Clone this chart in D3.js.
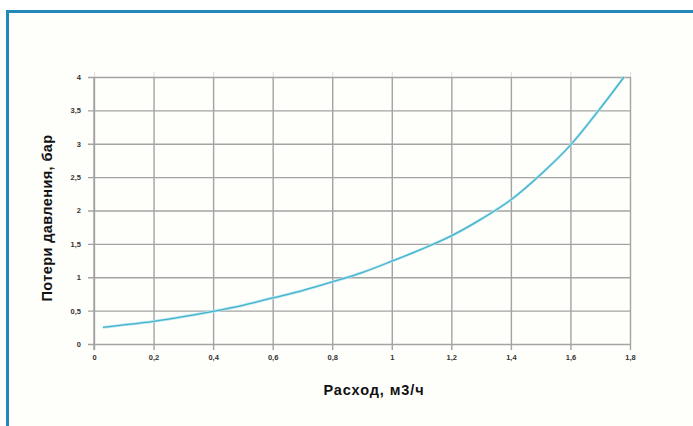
<!DOCTYPE html>
<html>
<head>
<meta charset="utf-8">
<script src="https://cdn.jsdelivr.net/npm/d3@7"></script>
<style>
  body { margin: 0; background: #fff; }
  svg { display: block; font-family: "Liberation Sans", Arial, sans-serif; }
</style>
</head>
<body>
<svg id="chart" width="693" height="426"></svg>
<script>
// Flow (m3/h) vs pressure loss (bar)
const flow = [0.03, 0.1, 0.2, 0.3, 0.4, 0.5, 0.6, 0.7, 0.8, 0.9, 1.0, 1.1, 1.2, 1.3, 1.4, 1.5, 1.6, 1.7, 1.78];
const loss = [0.25, 0.285, 0.34, 0.41, 0.49, 0.58, 0.69, 0.8, 0.93, 1.07, 1.24, 1.42, 1.62, 1.87, 2.16, 2.54, 2.98, 3.53, 4.0];

const xTicks = [0, 0.2, 0.4, 0.6, 0.8, 1, 1.2, 1.4, 1.6, 1.8];
const yTicks = [0, 0.5, 1, 1.5, 2, 2.5, 3, 3.5, 4];

const svg = d3.select("#chart");

// blue frame, runs off the right and bottom edges
svg.append("rect")
  .attr("x", 7.5).attr("y", 11.5)
  .attr("width", 720).attr("height", 440)
  .attr("fill", "#fefefb")
  .attr("stroke", "#2588bb")
  .attr("stroke-width", 3);

const x = d3.scaleLinear().domain([0, 1.8]).range([94, 630]);
const y = d3.scaleLinear().domain([0, 4]).range([344, 77]);

const comma = d => String(d).replace(".", ",");
const gridColor = "#a3a3a3";

// faint tick stubs above the top line
svg.append("g")
  .attr("transform", `translate(0,${y(4)})`)
  .call(d3.axisTop(x).tickValues(xTicks).tickSize(5).tickFormat(""))
  .call(g => g.select(".domain").remove())
  .call(g => g.selectAll("line").attr("stroke", gridColor).attr("stroke-opacity", 0.35));

// vertical grid + x labels
svg.append("g")
  .attr("transform", `translate(0,350)`)
  .call(d3.axisBottom(x).tickValues(xTicks).tickSize(-(350 - y(4))).tickPadding(5).tickFormat(comma))
  .call(g => g.select(".domain").remove())
  .call(g => g.selectAll("line").attr("stroke", gridColor).attr("stroke-width", 1.4))
  .call(g => g.selectAll("text")
    .attr("font-size", 7.5).attr("font-weight", "bold").attr("fill", "#333")
    .attr("font-family", "Liberation Sans, Arial, sans-serif"));

// horizontal grid + y labels
svg.append("g")
  .attr("transform", `translate(88,0)`)
  .call(d3.axisLeft(y).tickValues(yTicks).tickSize(-(x(1.8) - 88)).tickPadding(7).tickFormat(comma))
  .call(g => g.select(".domain").remove())
  .call(g => g.selectAll("line").attr("stroke", gridColor).attr("stroke-width", 1.4))
  .call(g => g.selectAll("text")
    .attr("font-size", 7.5).attr("font-weight", "bold").attr("fill", "#333")
    .attr("font-family", "Liberation Sans, Arial, sans-serif"));

// left plot border
svg.append("line")
  .attr("x1", x(0)).attr("x2", x(0))
  .attr("y1", y(4)).attr("y2", 350)
  .attr("stroke", gridColor).attr("stroke-width", 1.4);

// the curve
const line = d3.line()
  .x((d, i) => x(flow[i]))
  .y(d => y(d))
  .curve(d3.curveCatmullRom);

svg.append("path")
  .datum(loss)
  .attr("fill", "none")
  .attr("stroke", "#b5e6f0")
  .attr("stroke-width", 2.8)
  .attr("d", line);
svg.append("path")
  .datum(loss)
  .attr("fill", "none")
  .attr("stroke", "#45b2cc")
  .attr("stroke-width", 1.3)
  .attr("d", line);

// axis titles
svg.append("text")
  .attr("x", 374).attr("y", 395)
  .attr("text-anchor", "middle")
  .attr("font-size", 14.5).attr("font-weight", "bold").attr("fill", "#111")
  .attr("letter-spacing", 0.9)
  .text("Расход, м3/ч");

svg.append("text")
  .attr("transform", "translate(52,218) rotate(-90)")
  .attr("text-anchor", "middle")
  .attr("font-size", 14.5).attr("font-weight", "bold").attr("fill", "#111")
  .attr("letter-spacing", 0.4)
  .text("Потери давления, бар");
</script>
</body>
</html>
